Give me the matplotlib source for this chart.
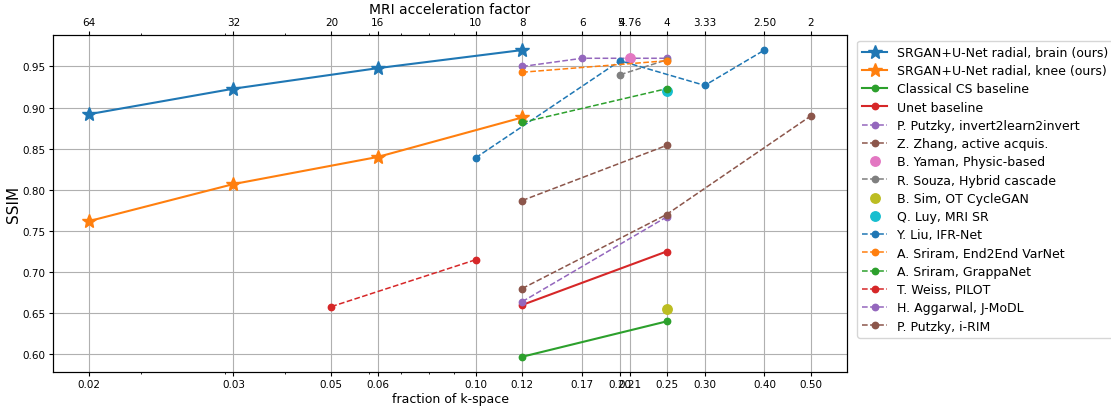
import numpy as np
import matplotlib
matplotlib.use("Agg")
import matplotlib.pyplot as plt
from matplotlib.ticker import NullFormatter, FixedLocator, FixedFormatter

# acceleration factors of the tick positions (top axis) and their k-space fractions
tick_accel = [64, 32, 20, 16, 10, 8, 6, 5, 4.76, 4, 3.33, 2.5, 2]
top_labels = ["64", "32", "20", "16", "10", "8", "6", "5", "4.76", "4", "3.33", "2.50", "2"]
bottom_labels = ["0.02", "0.03", "0.05", "0.06", "0.10", "0.12", "0.17", "0.20",
                 "0.21", "0.25", "0.30", "0.40", "0.50"]

# series: acceleration factor -> SSIM
brain_acc = [64, 32, 16, 8]
brain_ssim = [0.892, 0.923, 0.948, 0.970]
knee_acc = [64, 32, 16, 8]
knee_ssim = [0.762, 0.807, 0.840, 0.888]
cs_acc = [8, 4]
cs_ssim = [0.597, 0.640]
unet_acc = [8, 4]
unet_ssim = [0.660, 0.725]
putzky_acc = [8, 6, 4]
putzky_ssim = [0.950, 0.960, 0.960]
zhang_acc = [8, 4]
zhang_ssim = [0.787, 0.854]
yaman_acc = [4.76]
yaman_ssim = [0.960]
souza_acc = [5, 4]
souza_ssim = [0.940, 0.958]
sim_acc = [4]
sim_ssim = [0.655]
luy_acc = [4]
luy_ssim = [0.920]
liu_acc = [10, 5, 3.33, 2.5]
liu_ssim = [0.839, 0.957, 0.927, 0.970]
varnet_acc = [8, 4]
varnet_ssim = [0.943, 0.957]
grappa_acc = [8, 4]
grappa_ssim = [0.882, 0.923]
pilot_acc = [20, 10]
pilot_ssim = [0.658, 0.715]
jmodl_acc = [8, 4]
jmodl_ssim = [0.664, 0.767]
irim_acc = [8, 4, 2]
irim_ssim = [0.680, 0.770, 0.890]


def frac(acc):
    return [1.0 / a for a in acc]


fig = plt.figure(figsize=(11.11, 4.10), dpi=100)
ax = fig.add_axes([0.0477, 0.0900, 0.7147, 0.8229])

SM = 4.6   # small dots on lines
BM = 6.8   # single-point markers
DL = 1.1   # dashed line width

ax.plot(frac(brain_acc), brain_ssim, "-*", color="C0", ms=10, lw=1.5,
        label="SRGAN+U-Net radial, brain (ours)")
ax.plot(frac(knee_acc), knee_ssim, "-*", color="C1", ms=10, lw=1.5,
        label="SRGAN+U-Net radial, knee (ours)")
ax.plot(frac(cs_acc), cs_ssim, "-o", color="C2", ms=SM, lw=1.5,
        label="Classical CS baseline")
ax.plot(frac(unet_acc), unet_ssim, "-o", color="C3", ms=SM, lw=1.5,
        label="Unet baseline")
ax.plot(frac(putzky_acc), putzky_ssim, "--o", color="C4", ms=SM, lw=DL,
        label="P. Putzky, invert2learn2invert")
ax.plot(frac(zhang_acc), zhang_ssim, "--o", color="C5", ms=SM, lw=DL,
        label="Z. Zhang, active acquis.")
ax.plot(frac(yaman_acc), yaman_ssim, "o", color="C6", ms=BM,
        label="B. Yaman, Physic-based")
ax.plot(frac(souza_acc), souza_ssim, "--o", color="C7", ms=SM, lw=DL,
        label="R. Souza, Hybrid cascade")
ax.plot(frac(sim_acc), sim_ssim, "o", color="C8", ms=BM,
        label="B. Sim, OT CycleGAN")
ax.plot(frac(luy_acc), luy_ssim, "o", color="C9", ms=BM,
        label="Q. Luy, MRI SR")
ax.plot(frac(liu_acc), liu_ssim, "--o", color="C0", ms=SM, lw=DL,
        label="Y. Liu, IFR-Net")
ax.plot(frac(varnet_acc), varnet_ssim, "--o", color="C1", ms=SM, lw=DL,
        label="A. Sriram, End2End VarNet")
ax.plot(frac(grappa_acc), grappa_ssim, "--o", color="C2", ms=SM, lw=DL,
        label="A. Sriram, GrappaNet")
ax.plot(frac(pilot_acc), pilot_ssim, "--o", color="C3", ms=SM, lw=DL,
        label="T. Weiss, PILOT")
ax.plot(frac(jmodl_acc), jmodl_ssim, "--o", color="C4", ms=SM, lw=DL,
        label="H. Aggarwal, J-MoDL")
ax.plot(frac(irim_acc), irim_ssim, "--o", color="C5", ms=SM, lw=DL,
        label="P. Putzky, i-RIM")

ax.set_xscale("log")
ticks = frac(tick_accel)
ax.xaxis.set_major_locator(FixedLocator(ticks))
ax.xaxis.set_major_formatter(FixedFormatter(bottom_labels))
ax.xaxis.set_minor_formatter(NullFormatter())
ax.tick_params(axis="both", which="major", labelsize=7.5, length=2.8, pad=2.4)
ax.tick_params(axis="both", which="minor", length=1.6)
ax.grid(True, which="major")
ax.set_xlabel("fraction of k-space", fontsize=9, labelpad=2)
ax.set_ylabel("SSIM", fontsize=11, labelpad=1)

ax2 = ax.twiny()
ax2.set_xscale("log")
ax2.set_xlim(ax.get_xlim())
ax2.xaxis.set_major_locator(FixedLocator(ticks))
ax2.xaxis.set_major_formatter(FixedFormatter(top_labels))
ax2.xaxis.set_minor_formatter(NullFormatter())
ax2.tick_params(axis="x", which="major", labelsize=7.5, length=2.8, pad=2.4)
ax2.tick_params(axis="x", which="minor", length=1.6)
ax2.set_xlabel("MRI acceleration factor", fontsize=10, labelpad=3)

ax.legend(loc="upper left", bbox_to_anchor=(1.005, 1.0), fontsize=9,
          labelspacing=0.42)

fig.savefig("out.png", dpi=100)
